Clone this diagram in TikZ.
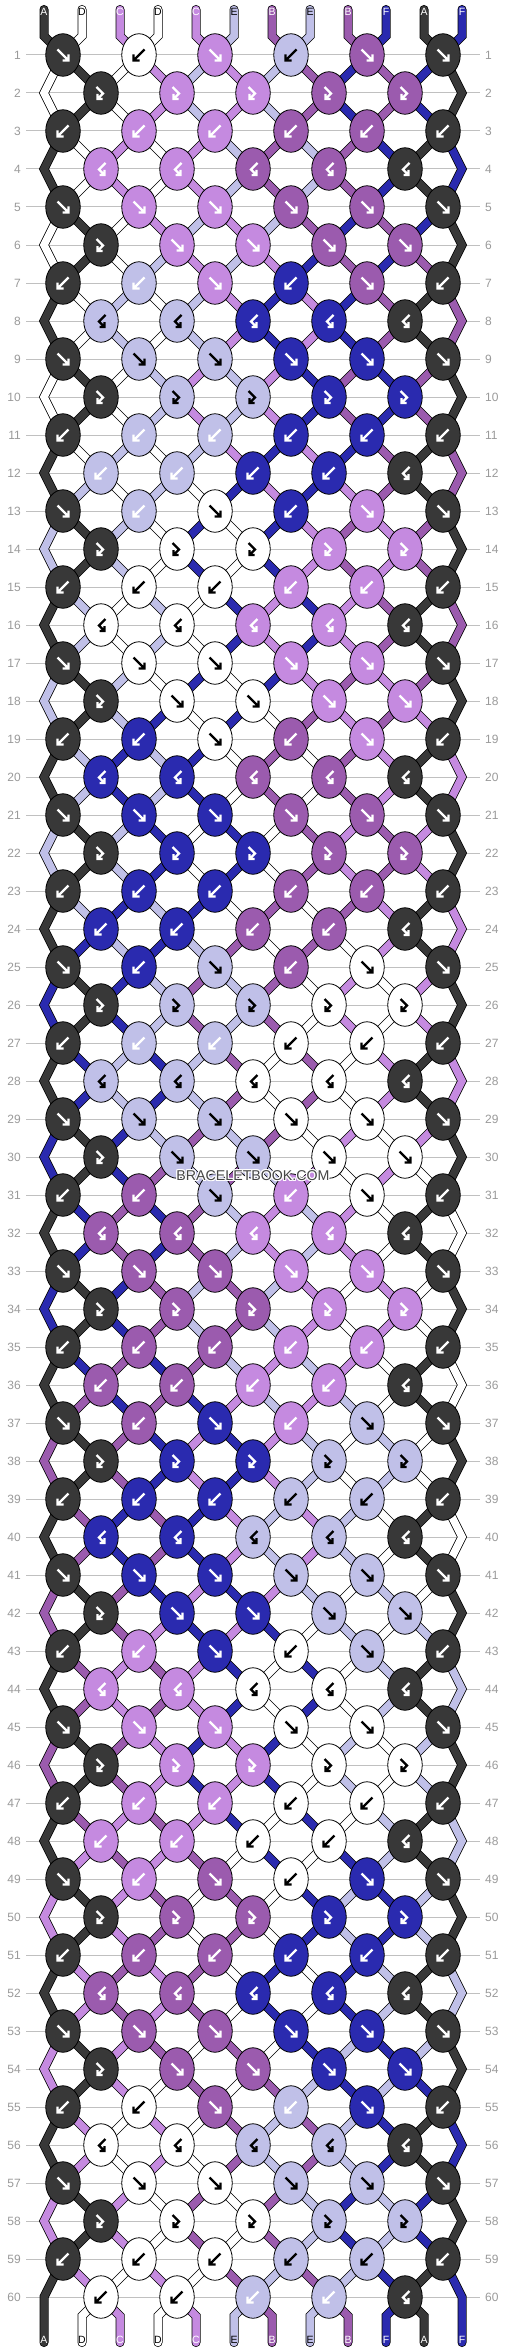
\documentclass[tikz,border=0pt]{standalone}
\usepackage{fontspec}
\setmainfont{Liberation Sans}
\usetikzlibrary{shapes.geometric}
\definecolor{cA}{HTML}{383838}
\definecolor{cD}{HTML}{FFFFFF}
\definecolor{cC}{HTML}{C58AE0}
\definecolor{cE}{HTML}{C0C0E8}
\definecolor{cB}{HTML}{9B5BAE}
\definecolor{cF}{HTML}{2A2AAF}
\definecolor{aA}{HTML}{FFFFFF}
\definecolor{aD}{HTML}{000000}
\definecolor{aC}{HTML}{FFFFFF}
\definecolor{aE}{HTML}{000000}
\definecolor{aB}{HTML}{FFFFFF}
\definecolor{aF}{HTML}{FFFFFF}
\definecolor{linegray}{HTML}{C0C0C0}
\definecolor{numgray}{HTML}{9A9A9A}
\definecolor{wmgray}{HTML}{454545}
\newcommand\braceletrow[3]{\expandafter\def\csname K#1\endcsname{#2}\expandafter\def\csname S#1\endcsname{#3}}
\expandafter\def\csname S0\endcsname{A,D,C,D,C,E,B,E,B,F,A,F}
\braceletrow{1}{A/f,D/b,C/f,E/b,B/f,A/f}{D,A,D,C,E,C,E,B,F,B,F,A}
\braceletrow{2}{A/p,C/p,C/p,B/p,B/p}{D,A,D,C,E,C,E,B,F,B,F,A}
\braceletrow{3}{A/b,C/b,C/b,B/b,B/b,A/b}{A,D,C,D,C,E,B,E,B,F,A,F}
\braceletrow{4}{C/q,C/q,B/q,B/q,A/q}{A,D,C,D,C,E,B,E,B,F,A,F}
\braceletrow{5}{A/f,C/f,C/f,B/f,B/f,A/f}{D,A,D,C,E,C,E,B,F,B,F,A}
\braceletrow{6}{A/p,C/f,C/f,B/f,B/f}{D,A,D,E,C,E,C,F,B,F,B,A}
\braceletrow{7}{A/b,E/w,C/f,F/b,B/f,A/b}{A,D,E,D,E,C,F,C,F,B,A,B}
\braceletrow{8}{E/q,E/q,F/q,F/q,A/q}{A,D,E,D,E,C,F,C,F,B,A,B}
\braceletrow{9}{A/f,E/f,E/f,F/f,F/f,A/f}{D,A,D,E,C,E,C,F,B,F,B,A}
\braceletrow{10}{A/p,E/p,E/p,F/p,F/p}{D,A,D,E,C,E,C,F,B,F,B,A}
\braceletrow{11}{A/b,E/w,E/w,F/b,F/b,A/b}{A,D,E,D,E,C,F,C,F,B,A,B}
\braceletrow{12}{E/w,E/w,F/b,F/b,A/q}{A,E,D,E,D,F,C,F,C,B,A,B}
\braceletrow{13}{A/f,E/w,D/f,F/b,C/f,A/f}{E,A,E,D,F,D,F,C,B,C,B,A}
\braceletrow{14}{A/p,D/p,D/p,C/p,C/p}{E,A,E,D,F,D,F,C,B,C,B,A}
\braceletrow{15}{A/b,D/b,D/b,C/b,C/b,A/b}{A,E,D,E,D,F,C,F,C,B,A,B}
\braceletrow{16}{D/q,D/q,C/q,C/q,A/q}{A,E,D,E,D,F,C,F,C,B,A,B}
\braceletrow{17}{A/f,D/f,D/f,C/f,C/f,A/f}{E,A,E,D,F,D,F,C,B,C,B,A}
\braceletrow{18}{A/p,D/f,D/f,C/f,C/f}{E,A,E,F,D,F,D,B,C,B,C,A}
\braceletrow{19}{A/b,F/b,D/f,B/b,C/f,A/b}{A,E,F,E,F,D,B,D,B,C,A,C}
\braceletrow{20}{F/q,F/q,B/q,B/q,A/q}{A,E,F,E,F,D,B,D,B,C,A,C}
\braceletrow{21}{A/f,F/f,F/f,B/f,B/f,A/f}{E,A,E,F,D,F,D,B,C,B,C,A}
\braceletrow{22}{A/p,F/p,F/p,B/p,B/p}{E,A,E,F,D,F,D,B,C,B,C,A}
\braceletrow{23}{A/b,F/b,F/b,B/b,B/b,A/b}{A,E,F,E,F,D,B,D,B,C,A,C}
\braceletrow{24}{F/b,F/b,B/b,B/b,A/q}{A,F,E,F,E,B,D,B,D,C,A,C}
\braceletrow{25}{A/f,F/b,E/f,B/b,D/f,A/f}{F,A,F,E,B,E,B,D,C,D,C,A}
\braceletrow{26}{A/p,E/p,E/p,D/p,D/p}{F,A,F,E,B,E,B,D,C,D,C,A}
\braceletrow{27}{A/b,E/w,E/w,D/b,D/b,A/b}{A,F,E,F,E,B,D,B,D,C,A,C}
\braceletrow{28}{E/q,E/q,D/q,D/q,A/q}{A,F,E,F,E,B,D,B,D,C,A,C}
\braceletrow{29}{A/f,E/f,E/f,D/f,D/f,A/f}{F,A,F,E,B,E,B,D,C,D,C,A}
\braceletrow{30}{A/p,E/f,E/f,D/f,D/f}{F,A,F,B,E,B,E,C,D,C,D,A}
\braceletrow{31}{A/b,B/b,E/f,C/b,D/f,A/b}{A,F,B,F,B,E,C,E,C,D,A,D}
\braceletrow{32}{B/q,B/q,C/q,C/q,A/q}{A,F,B,F,B,E,C,E,C,D,A,D}
\braceletrow{33}{A/f,B/f,B/f,C/f,C/f,A/f}{F,A,F,B,E,B,E,C,D,C,D,A}
\braceletrow{34}{A/p,B/p,B/p,C/p,C/p}{F,A,F,B,E,B,E,C,D,C,D,A}
\braceletrow{35}{A/b,B/b,B/b,C/b,C/b,A/b}{A,F,B,F,B,E,C,E,C,D,A,D}
\braceletrow{36}{B/b,B/b,C/b,C/b,A/q}{A,B,F,B,F,C,E,C,E,D,A,D}
\braceletrow{37}{A/f,B/b,F/f,C/b,E/f,A/f}{B,A,B,F,C,F,C,E,D,E,D,A}
\braceletrow{38}{A/p,F/p,F/p,E/p,E/p}{B,A,B,F,C,F,C,E,D,E,D,A}
\braceletrow{39}{A/b,F/b,F/b,E/b,E/b,A/b}{A,B,F,B,F,C,E,C,E,D,A,D}
\braceletrow{40}{F/q,F/q,E/q,E/q,A/q}{A,B,F,B,F,C,E,C,E,D,A,D}
\braceletrow{41}{A/f,F/f,F/f,E/f,E/f,A/f}{B,A,B,F,C,F,C,E,D,E,D,A}
\braceletrow{42}{A/p,F/f,F/f,E/f,E/f}{B,A,B,C,F,C,F,D,E,D,E,A}
\braceletrow{43}{A/b,C/b,F/f,D/b,E/f,A/b}{A,B,C,B,C,F,D,F,D,E,A,E}
\braceletrow{44}{C/q,C/q,D/q,D/q,A/q}{A,B,C,B,C,F,D,F,D,E,A,E}
\braceletrow{45}{A/f,C/f,C/f,D/f,D/f,A/f}{B,A,B,C,F,C,F,D,E,D,E,A}
\braceletrow{46}{A/p,C/p,C/p,D/p,D/p}{B,A,B,C,F,C,F,D,E,D,E,A}
\braceletrow{47}{A/b,C/b,C/b,D/b,D/b,A/b}{A,B,C,B,C,F,D,F,D,E,A,E}
\braceletrow{48}{C/b,C/b,D/b,D/b,A/q}{A,C,B,C,B,D,F,D,F,E,A,E}
\braceletrow{49}{A/f,C/b,B/f,D/b,F/f,A/f}{C,A,C,B,D,B,D,F,E,F,E,A}
\braceletrow{50}{A/p,B/p,B/p,F/p,F/p}{C,A,C,B,D,B,D,F,E,F,E,A}
\braceletrow{51}{A/b,B/b,B/b,F/b,F/b,A/b}{A,C,B,C,B,D,F,D,F,E,A,E}
\braceletrow{52}{B/q,B/q,F/q,F/q,A/q}{A,C,B,C,B,D,F,D,F,E,A,E}
\braceletrow{53}{A/f,B/f,B/f,F/f,F/f,A/f}{C,A,C,B,D,B,D,F,E,F,E,A}
\braceletrow{54}{A/p,B/f,B/f,F/f,F/f}{C,A,C,D,B,D,B,E,F,E,F,A}
\braceletrow{55}{A/b,D/b,B/f,E/w,F/f,A/b}{A,C,D,C,D,B,E,B,E,F,A,F}
\braceletrow{56}{D/q,D/q,E/q,E/q,A/q}{A,C,D,C,D,B,E,B,E,F,A,F}
\braceletrow{57}{A/f,D/f,D/f,E/f,E/f,A/f}{C,A,C,D,B,D,B,E,F,E,F,A}
\braceletrow{58}{A/p,D/p,D/p,E/p,E/p}{C,A,C,D,B,D,B,E,F,E,F,A}
\braceletrow{59}{A/b,D/b,D/b,E/b,E/b,A/b}{A,C,D,C,D,B,E,B,E,F,A,F}
\braceletrow{60}{D/b,D/b,E/w,E/w,A/q}{A,D,C,D,C,E,B,E,B,F,A,F}
% arrow glyphs (y axis points down)
\newcommand\glyphf[2]{\draw[arrowline, draw=#2, shift={(#1)}] (-5.5,-5.5) -- (5.5,5.5) (-0.5,5.5) -- (5.5,5.5) -- (5.5,-0.5);}
\newcommand\glyphb[2]{\draw[arrowline, draw=#2, shift={(#1)}] (5.5,-5.5) -- (-5.5,5.5) (0.5,5.5) -- (-5.5,5.5) -- (-5.5,-0.5);}
\newcommand\glyphp[2]{\draw[arrowline, draw=#2, shift={(#1)}] (-4.5,-6) -- (2,0.5) -- (-3.5,6) (-3.5,1) -- (-3.5,6) -- (1.5,6);}
\newcommand\glyphq[2]{\draw[arrowline, draw=#2, shift={(#1)}] (4.5,-6) -- (-2,0.5) -- (3.5,6) (3.5,1) -- (3.5,6) -- (-1.5,6);}
\newcommand\glyphw[2]{\glyphb{#1}{white}}
\begin{document}
\begin{tikzpicture}[x=1pt, y=-1pt,
  strand/.style={draw=black, line width=0.75pt, double=#1, double distance=7.5pt, line cap=round, line join=miter},
  knot/.style={ellipse, draw=black, line width=0.8pt, minimum width=34.5pt, minimum height=42.5pt, inner sep=0pt},
  arrowline/.style={line width=2.3pt, line cap=butt, line join=miter},
  gridline/.style={draw=linegray, line width=1pt},
  num/.style={font=\fontsize{12}{14}\selectfont, text=numgray, inner sep=0pt},
  lab/.style={font=\fontsize{10.5}{12}\selectfont, inner sep=0pt},
  wm/.style={font=\fontsize{14.2}{16}\selectfont, inner sep=0pt}]
\useasboundingbox (0,0) rectangle (506,2352);
\fill[white] (0,0) rectangle (506,2352);
% row lines and numbers
\foreach \rw in {1,...,60} {
  \pgfmathsetmacro\yy{55+38*(\rw-1)}
  \node[num, anchor=east] (ln-\rw) at (21,\yy) {\rw};
  \node[num, anchor=west] (rn-\rw) at (485,\yy) {\rw};
  \draw[gridline] ([xshift=5pt]ln-\rw.east) -- ([xshift=-5pt]rn-\rw.west);
}
% anchor coordinates
\foreach \rw in {1,...,60} {
  \pgfmathsetmacro\yy{55+38*(\rw-1)}
  \foreach \ps in {1,...,12} {
    \ifodd\rw\relax
      \pgfmathsetmacro\xx{253+76*(ceil(\ps/2)-3.5)}
    \else
      \ifnum\ps=1 \def\xx{44}\else\ifnum\ps=12 \def\xx{462}\else\pgfmathsetmacro\xx{253+76*(floor(\ps/2)-3)}\fi\fi
    \fi
    \coordinate (a-\rw-\ps) at (\xx,\yy);
  }
}
\foreach \ps in {1,...,12} {
  \pgfmathsetmacro\xx{253+38*(\ps-6.5)}
  \coordinate (t-\ps) at (\xx,9.5);
  \coordinate (a-0-\ps) at (\xx,36);
  \coordinate (a-61-\ps) at (\xx,2316);
  \coordinate (z-\ps) at (\xx,2342.5);
}
% strings
\foreach \rw in {0,...,60} {
  \expandafter\let\expandafter\slist\csname S\rw\endcsname
  \pgfmathtruncatemacro\ra{\rw+1}
  \pgfmathtruncatemacro\rb{\rw+2}
  \foreach \cl [count=\ps] in \slist {
    \ifnum\ps=1 \def\ed{1}\else\ifnum\ps=12 \def\ed{1}\else\def\ed{0}\fi\fi
    \ifnum\rw=0
      \draw[strand=c\cl] (t-\ps) -- (a-0-\ps) -- (a-1-\ps);
    \else\ifnum\ed=1
      \ifodd\rw\relax
        \ifnum\rw=59
          \draw[strand=c\cl] (a-59-\ps) -- (a-60-\ps) -- (z-\ps);
        \else
          \draw[strand=c\cl] (a-\rw-\ps) -- (a-\ra-\ps) -- (a-\rb-\ps);
        \fi
      \fi
    \else\ifnum\rw=60
      \draw[strand=c\cl] (a-60-\ps) -- (a-61-\ps) -- (z-\ps);
    \else
      \draw[strand=c\cl] (a-\rw-\ps) -- (a-\ra-\ps);
    \fi\fi\fi
  }
}
% knots
\foreach \rw in {1,...,60} {
  \expandafter\let\expandafter\klist\csname K\rw\endcsname
  \foreach \cl/\ty [count=\kn] in \klist {
    \pgfmathtruncatemacro\pp{2*\kn}
    \node[knot, fill=c\cl] (k-\rw-\kn) at (a-\rw-\pp) {};
    \csname glyph\ty\endcsname{k-\rw-\kn}{a\cl}
  }
}
% string letters
\foreach \cl [count=\ps] in {A,D,C,D,C,E,B,E,B,F,A,F} {
  \node[lab, text=a\cl] (tl-\ps) at ([yshift=-2.5pt]t-\ps) {\cl};
  \node[lab, text=a\cl] (bl-\ps) at ([yshift=2.5pt]z-\ps) {\cl};
}
% watermark
\coordinate (wmpos) at (253,1175.5);
\foreach \dx/\dy [count=\i] in {-1/0,1/0,0/-1,0/1,-1/-1,1/1,-1/1,1/-1} {
  \node[wm, text=white] (wmh-\i) at ([xshift=\dx pt, yshift=\dy pt]wmpos) {BRACELETBOOK.COM};
}
\node[wm, text=wmgray] (wm) at (wmpos) {BRACELETBOOK.COM};
\end{tikzpicture}
\end{document}
